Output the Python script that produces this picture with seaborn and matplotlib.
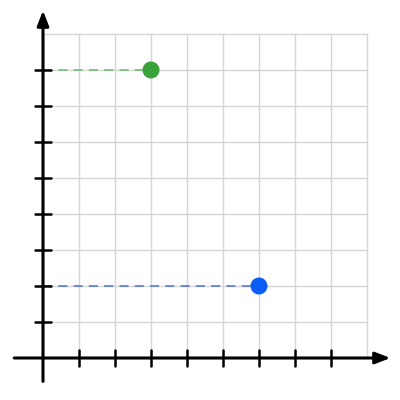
import numpy as np
import pandas as pd
import matplotlib
matplotlib.use("Agg")
import matplotlib.pyplot as plt
import seaborn as sns

# data
point_x = [3, 6]
point_y = [8, 2]
point_colors = ["#3aa23a", "#0b5cf4"]
guide_colors = ["#6ab86a", "#4a6fe0"]
grid_max = 9
tick_values = list(range(1, 9))

sns.set_style("white")
fig = plt.figure(figsize=(4, 4), dpi=100)
ax = fig.add_axes([0, 0, 1, 1])

unit = 36.0
ox, oy = 43.0, 358.0

# light grid
for v in range(0, grid_max + 1):
    ax.plot([v, v], [0, grid_max], color="#d6d6d6", lw=1, zorder=1)
    ax.plot([0, grid_max], [v, v], color="#d6d6d6", lw=1, zorder=1)

# dashed guides to the y axis
df = pd.DataFrame({"x": point_x, "y": point_y, "c": point_colors, "g": guide_colors})
for _, r in df.iterrows():
    ax.plot([0, r["x"]], [r["y"], r["y"]], color=r["g"], lw=1.1, ls=(0, (6, 4)), zorder=2)

# axes with arrows
ax.annotate("", xy=(9.65, 0), xytext=(-0.8, 0),
            arrowprops=dict(arrowstyle="-|>,head_length=0.9,head_width=0.35",
                            color="black", lw=2.2, shrinkA=0, shrinkB=0), zorder=3)
ax.annotate("", xy=(0, 9.65), xytext=(0, -0.65),
            arrowprops=dict(arrowstyle="-|>,head_length=0.9,head_width=0.35",
                            color="black", lw=2.2, shrinkA=0, shrinkB=0), zorder=3)

tick_half = 8 / unit
for t in tick_values:
    ax.plot([t, t], [-tick_half, tick_half], color="black", lw=1.8, zorder=3)
    ax.plot([-tick_half, tick_half], [t, t], color="black", lw=1.8, zorder=3)

sns.scatterplot(data=df, x="x", y="y", hue="c", palette=dict(zip(point_colors, point_colors)),
                s=150, edgecolor="none", legend=False, ax=ax, zorder=4)
ax.set_xlim(-ox / unit, (400 - ox) / unit)
ax.set_ylim(-(400 - oy) / unit, oy / unit)
ax.axis("off")

fig.savefig("out.png", dpi=100)
